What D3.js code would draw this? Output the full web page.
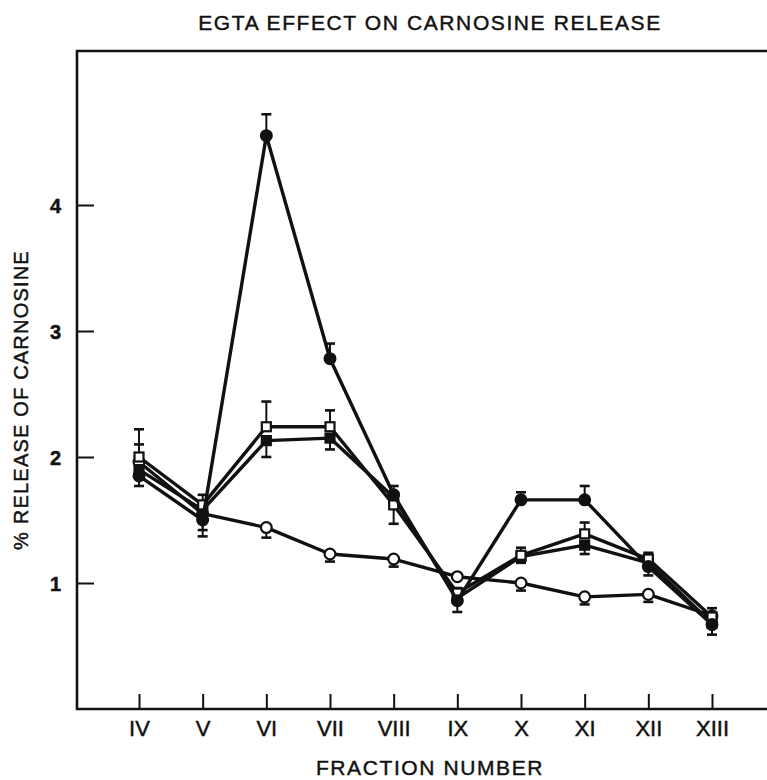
<!DOCTYPE html>
<html>
<head>
<meta charset="utf-8">
<script src="https://cdn.jsdelivr.net/npm/d3@7"></script>
<style>
  html, body { margin: 0; padding: 0; background: #fff; }
  svg { display: block; }
  text { font-family: "Liberation Sans", "DejaVu Sans", sans-serif; fill: #111; stroke: #111; stroke-width: 0.45px; }
</style>
</head>
<body>
<svg id="chart" width="767" height="780"></svg>
<script>
// Fractions collected along the x axis
const fractions = ["IV", "V", "VI", "VII", "VIII", "IX", "X", "XI", "XII", "XIII"];
const yTicks = [1, 2, 3, 4];

// % release per fraction, and the end value of each one-sided error bar (null = none)
const filledCircle    = [1.85, 1.50, 4.55, 2.78, 1.70, 0.86, 1.66, 1.66, 1.13, 0.67];
const filledCircleErr = [1.77, 1.37, 4.72, 2.90, 1.77, 0.77, 1.72, 1.77, 1.06, 0.59];

const openSquare      = [2.00, 1.62, 2.24, 2.24, 1.62, 0.92, 1.22, 1.39, 1.19, 0.73];
const openSquareErr   = [2.22, 1.70, 2.44, 2.37, 1.47, 0.96, 1.28, 1.48, 1.24, 0.80];

const filledSquare    = [1.90, 1.58, 2.13, 2.15, 1.68, 0.88, 1.21, 1.30, 1.16, 0.68];
const filledSquareErr = [null, null, 2.00, 2.06, null, null, 1.16, 1.23, null, null];

const openCircle      = [1.96, 1.55, 1.44, 1.23, 1.19, 1.05, 1.00, 0.89, 0.91, 0.74];
const openCircleErr   = [2.10, 1.42, 1.36, 1.17, 1.13, null, 0.94, 0.83, 0.85, null];

const series = [
  { values: openCircle,   err: openCircleErr,   shape: "circle", fill: "#fff" },
  { values: filledSquare, err: filledSquareErr, shape: "square", fill: "#111" },
  { values: openSquare,   err: openSquareErr,   shape: "square", fill: "#fff" },
  { values: filledCircle, err: filledCircleErr, shape: "circle", fill: "#111" }
];

const svg = d3.select("#chart");
const ink = "#111";

const frameLeft = 77, frameRight = 767, frameTop = 51;
const x = d3.scalePoint().domain(fractions).range([139, 712]);
const y = d3.scaleLinear().domain([0, 4]).range([709, 205]);
const frameBottom = y(0);

// Frame: left axis, top rule and bottom axis
svg.append("path")
  .attr("d", `M${frameRight},${frameTop} H${frameLeft} V${frameBottom} H${frameRight}`)
  .attr("fill", "none").attr("stroke", ink).attr("stroke-width", 2.6);

// Y axis: ticks pointing into the plot
const yAxis = d3.axisRight(y).tickValues(yTicks).tickSize(17).tickFormat(d3.format("d"));
const gy = svg.append("g").attr("transform", `translate(${frameLeft},0)`).call(yAxis);
gy.select(".domain").remove();
gy.selectAll("line").attr("stroke", ink).attr("stroke-width", 2);
gy.selectAll("text")
  .attr("x", -16).attr("dy", "0.35em")
  .attr("text-anchor", "end")
  .style("font-size", "20px").style("font-weight", "bold");

// X axis: ticks pointing up, roman numeral labels below
const xAxis = d3.axisBottom(x).tickSize(-15).tickPadding(14);
const gx = svg.append("g").attr("transform", `translate(0,${frameBottom})`).call(xAxis);
gx.select(".domain").remove();
gx.selectAll("line").attr("stroke", ink).attr("stroke-width", 2);
gx.selectAll("text")
  .attr("y", 11).attr("dy", "0.71em")
  .style("font-family", "'Liberation Sans Narrow', 'Liberation Sans', sans-serif")
  .style("font-size", "22px");

// Titles
svg.append("text")
  .attr("x", 430).attr("y", 30)
  .attr("text-anchor", "middle")
  .style("font-size", "21px").style("letter-spacing", "1.6px")
  .text("EGTA EFFECT ON CARNOSINE RELEASE");

svg.append("text")
  .attr("x", 430).attr("y", 775)
  .attr("text-anchor", "middle")
  .style("font-size", "21px").style("letter-spacing", "1.6px")
  .text("FRACTION NUMBER");

svg.append("text")
  .attr("transform", "translate(28,400) rotate(-90)")
  .attr("text-anchor", "middle")
  .style("font-size", "20px").style("letter-spacing", "1.2px")
  .text("% RELEASE OF CARNOSINE");

const line = d3.line().x((d, i) => x(fractions[i])).y(d => y(d));
const plot = svg.append("g");

series.forEach(s => {
  const g = plot.append("g");

  // one-sided error bars with a short cap
  s.values.forEach((v, i) => {
    const e = s.err[i];
    if (e == null) return;
    const cx = x(fractions[i]);
    g.append("line")
      .attr("x1", cx).attr("x2", cx).attr("y1", y(v)).attr("y2", y(e))
      .attr("stroke", ink).attr("stroke-width", 2);
    g.append("line")
      .attr("x1", cx - 5).attr("x2", cx + 5).attr("y1", y(e)).attr("y2", y(e))
      .attr("stroke", ink).attr("stroke-width", 2.6);
  });

  g.append("path")
    .datum(s.values)
    .attr("d", line)
    .attr("fill", "none").attr("stroke", ink).attr("stroke-width", 3.4)
    .attr("stroke-linejoin", "round");

  const pts = g.selectAll(".pt").data(s.values).enter();
  if (s.shape === "circle") {
    pts.append("circle")
      .attr("cx", (d, i) => x(fractions[i])).attr("cy", d => y(d))
      .attr("r", 5.4)
      .attr("fill", s.fill).attr("stroke", ink).attr("stroke-width", 2.2);
  } else {
    pts.append("rect")
      .attr("x", (d, i) => x(fractions[i]) - 4.5).attr("y", d => y(d) - 4.5)
      .attr("width", 9).attr("height", 9)
      .attr("fill", s.fill).attr("stroke", ink).attr("stroke-width", 2.2);
  }
});
</script>
</body>
</html>
